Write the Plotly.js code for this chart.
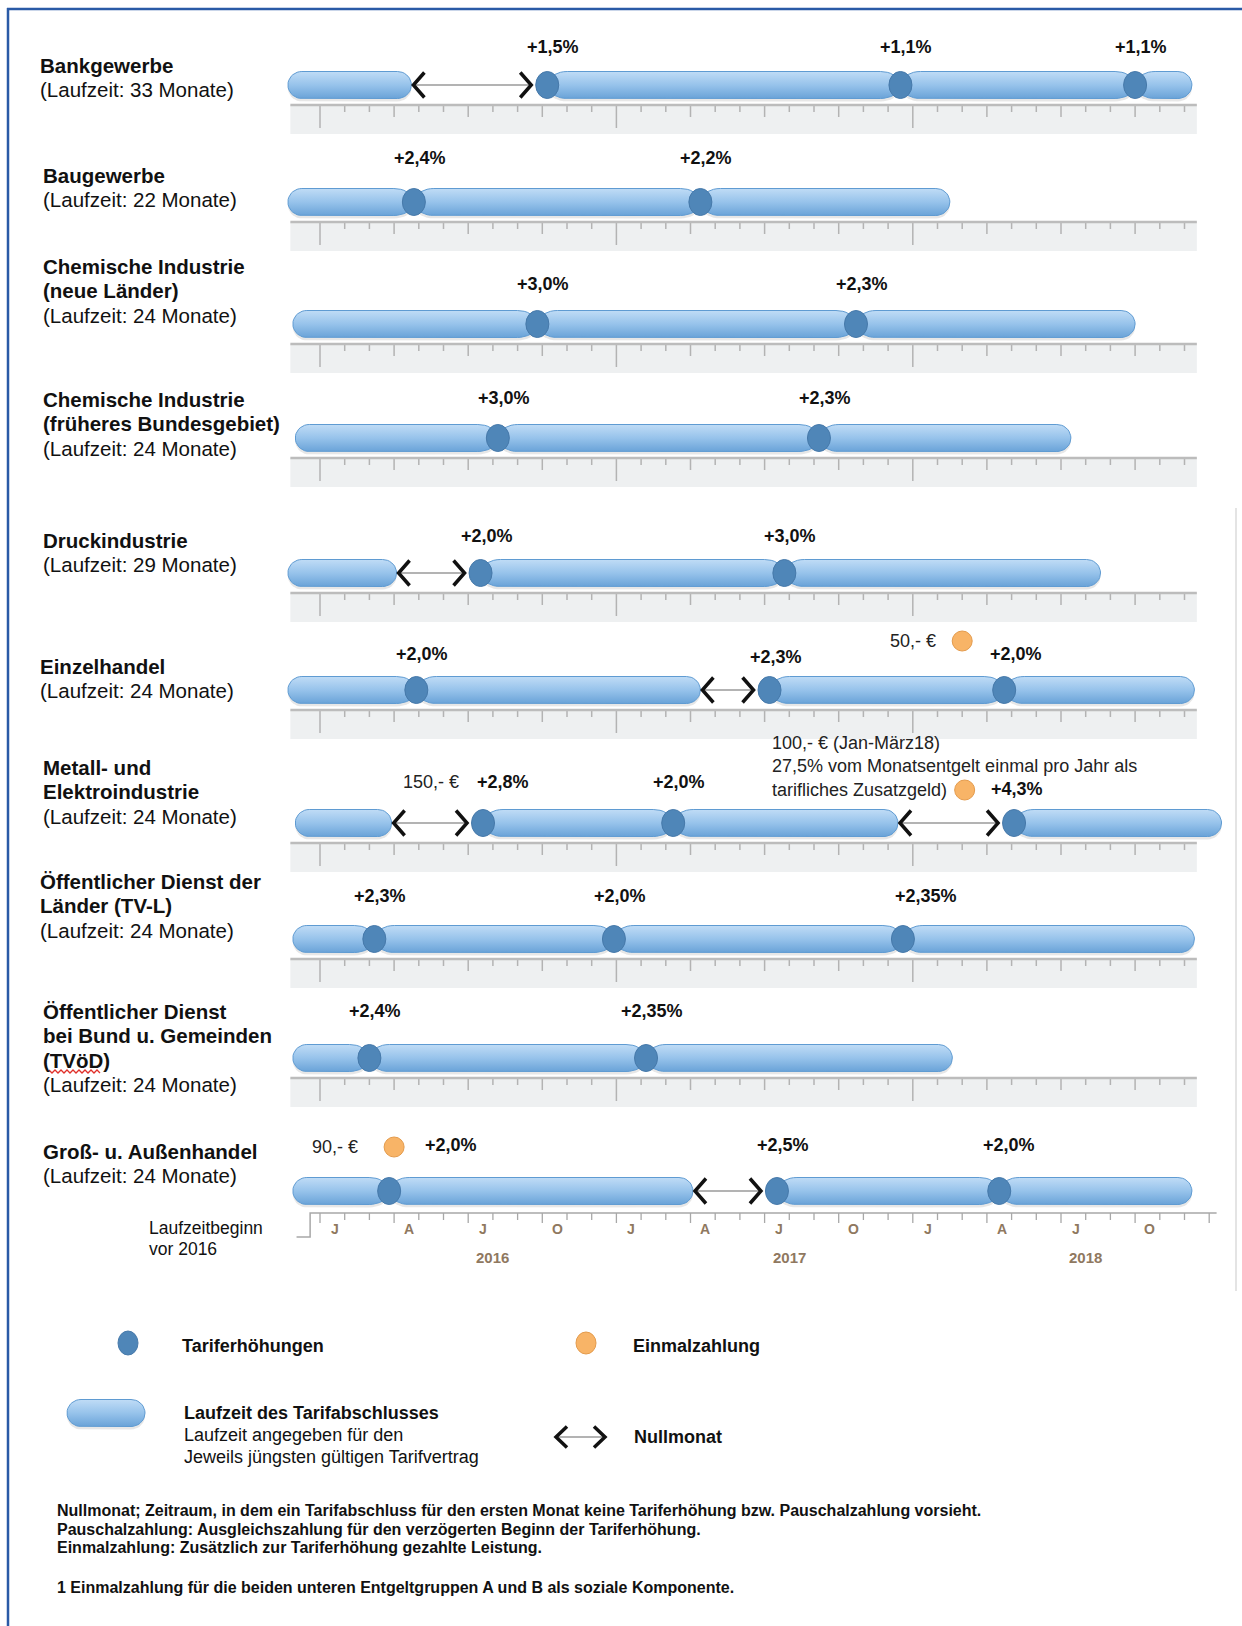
<!DOCTYPE html>
<html><head><meta charset="utf-8">
<script src="https://cdn.plot.ly/plotly-3.0.1.min.js"></script>
<style>html,body{margin:0;padding:0;background:#fff;} #chart{width:1242px;height:1626px;}</style>
</head><body><div id="chart"></div>
<script>
// ================= DATA (months since Jan 2016 = 0) =================
const branchTitles = [
  'Bankgewerbe',
  'Baugewerbe',
  'Chemische Industrie|(neue Länder)',
  'Chemische Industrie|(früheres Bundesgebiet)',
  'Druckindustrie',
  'Einzelhandel',
  'Metall- und|Elektroindustrie',
  'Öffentlicher Dienst der|Länder (TV-L)',
  'Öffentlicher Dienst|bei Bund u. Gemeinden|(TVöD)',
  'Groß- u. Außenhandel'
];
const laufzeitMonths = [33, 22, 24, 24, 29, 24, 24, 24, 24, 24];
const barStart = [-1.3, -1.3, -1.1, -1.0, -1.3, -1.3, -1.0, -1.1, -1.1, -1.1];
const barEnd   = [35.3, 25.5, 33.0, 30.4, 31.6, 35.4, 36.5, 35.4, 25.6, 35.3];
const raiseMonths = [
  [9.2, 23.5, 33.0],
  [3.8, 15.4],
  [8.8, 21.7],
  [7.2, 20.2],
  [6.5, 18.8],
  [3.9, 18.2, 27.7],
  [6.6, 14.3, 28.1],
  [2.2, 11.9, 23.6],
  [2.0, 13.2],
  [2.8, 18.5, 27.5]
];
const raiseLabels = [
  ['+1,5%', '+1,1%', '+1,1%'],
  ['+2,4%', '+2,2%'],
  ['+3,0%', '+2,3%'],
  ['+3,0%', '+2,3%'],
  ['+2,0%', '+3,0%'],
  ['+2,0%', '+2,3%', '+2,0%'],
  ['+2,8%', '+2,0%', '+4,3%'],
  ['+2,3%', '+2,0%', '+2,35%'],
  ['+2,4%', '+2,35%'],
  ['+2,0%', '+2,5%', '+2,0%']
];
const nullmonatFrom = [[3.7], [], [], [], [3.1], [15.4], [2.9, 23.4], [], [], [15.1]];
const nullmonatTo   = [[9.2], [], [], [], [6.5], [18.2], [6.6, 28.1], [], [], [18.5]];
const paymentRow    = [5, 6, 6, 9];
const paymentMonth  = [26.0, 4.5, 26.1, 3.0];
const paymentText   = ['50,- €', '150,- €',
  '100,- € (Jan-März18)<br>27,5% vom Monatsentgelt einmal pro Jahr als<br>tarifliches Zusatzgeld)',
  '90,- €'];
const paymentMarker = [true, false, true, true];
const quarterLetters = ['J', 'A', 'J', 'O'];
const yearLabels = ['2016', '2017', '2018'];
const timelineSpan = [-1.2, 35.5];   // extent of the month rulers
const footnotes = [
  'Nullmonat; Zeitraum, in dem ein Tarifabschluss für den ersten Monat keine Tariferhöhung bzw. Pauschalzahlung vorsieht.',
  'Pauschalzahlung: Ausgleichszahlung für den verzögerten Beginn der Tariferhöhung.',
  'Einmalzahlung: Zusätzlich zur Tariferhöhung gezahlte Leistung.',
  '1 Einmalzahlung für die beiden unteren Entgeltgruppen A und B als soziale Komponente.'
];

// ================= LAYOUT CONSTANTS =================
const W = 1242, H = 1626;
const PX0 = 320, PXM = 24.7;            // pixel of month 0, pixels per month
const px2m = px => (px - PX0) / PXM;
const dm = px => px / PXM;
const ROW_Y   = [85, 202, 324, 438, 573, 690, 823, 939, 1058, 1191];
const TITLE_Y = [65, 175, 266, 399, 540, 666, 767, 881, 1011, 1151];
const TITLE_X = [38, 41, 41, 41, 41, 38, 41, 38, 41, 41];
const LABEL_Y = [47, 158, 284, 398, 536, 654, 782, 896, 1011, 1145];
const LABEL_NUDGE = {'6-0': {x: 14}, '9-0': {x: 56}, '7-2': {x: 17}, '6-2': {x: -3, y: 7}, '5-2': {x: 6}, '5-1': {y: 3}, '9-2': {x: 4}};
const PAY_LAYOUT = [
  {dy: -49, xanchor: 'right', xshift: -24, yshift: 0},
  {dy: -41, xanchor: 'center', xshift: 0, yshift: 0},
  {dy: -33, xanchor: 'left', xshift: -195, yshift: 24},
  {dy: -44, xanchor: 'right', xshift: -34, yshift: 0}
];
const FONT = 'Liberation Sans, Arial, Helvetica, sans-serif';
const BAR_H = 13.5;
const RX_FREE = dm(14), RX_DOT = dm(20);

const traces = [], shapes = [], annotations = [];

function capsule(a, b, yc, h, rxL, rxR) {
  const xs = [], ys = [], n = 18;
  rxL = Math.min(rxL, (b - a) / 2); rxR = Math.min(rxR, (b - a) / 2);
  for (let i = 0; i <= n; i++) { const t = -Math.PI / 2 + Math.PI * i / n; xs.push(b - rxR + rxR * Math.cos(t)); ys.push(yc + h * Math.sin(t)); }
  for (let i = 0; i <= n; i++) { const t = Math.PI / 2 + Math.PI * i / n; xs.push(a + rxL + rxL * Math.cos(t)); ys.push(yc + h * Math.sin(t)); }
  xs.push(xs[0]); ys.push(ys[0]);
  return {xs, ys};
}
function addCapsule(a, b, yc, rxL, rxR) {
  const s = capsule(a, b, yc + 3, BAR_H, rxL, rxR);
  traces.push({type: 'scatter', mode: 'lines', x: s.xs, y: s.ys, fill: 'toself',
    fillcolor: 'rgba(70,70,70,0.13)', line: {width: 0, color: 'rgba(0,0,0,0)'}, hoverinfo: 'skip'});
  const c = capsule(a, b, yc, BAR_H, rxL, rxR);
  traces.push({type: 'scatter', mode: 'lines', x: c.xs, y: c.ys, fill: 'toself', fillcolor: '#93c0ea',
    fillgradient: {type: 'vertical', start: yc - BAR_H, stop: yc + BAR_H,
      colorscale: [[0, '#c0dcf6'], [0.5, '#97c3eb'], [1, '#6aa3d8']]},
    line: {color: '#5f9bd2', width: 1}, hoverinfo: 'skip'});
}
function addChevrons(g0, g1, yc, armH) {
  const lt = g0 + dm(2), rt = g1 - dm(16);
  traces.push({type: 'scatter', mode: 'lines', x: [lt + dm(2), rt - dm(2)], y: [yc, yc],
    line: {color: '#9a9a9a', width: 1.5}, hoverinfo: 'skip'});
  traces.push({type: 'scatter', mode: 'lines', x: [lt + dm(11), lt, lt + dm(11)], y: [yc - armH, yc, yc + armH],
    line: {color: '#111', width: 3.5}, hoverinfo: 'skip'});
  traces.push({type: 'scatter', mode: 'lines', x: [rt - dm(11), rt, rt - dm(11)], y: [yc - armH, yc, yc + armH],
    line: {color: '#111', width: 3.5}, hoverinfo: 'skip'});
}
function txt(xpx, y, text, size, opts) {
  annotations.push(Object.assign({xref: 'paper', yref: 'y', x: xpx / W, y: y, text: text, showarrow: false,
    xanchor: 'left', yanchor: 'middle', font: {family: FONT, size: size, color: '#111'}}, opts || {}));
}

// ---- rulers (gray strips with month ticks) ----
const tickX = [], tickY = [], lineX = [], lineY = [];
for (let r = 0; r < 9; r++) {
  const top = ROW_Y[r] + 20;
  shapes.push({type: 'rect', xref: 'x', yref: 'y', x0: timelineSpan[0], x1: timelineSpan[1], y0: top, y1: top + 29,
    fillcolor: '#eef0f1', line: {width: 0}, layer: 'below'});
  lineX.push(timelineSpan[0], timelineSpan[1], null); lineY.push(top, top, null);
  for (let m = 0; m <= 35; m++) {
    const len = m % 12 === 0 ? 23 : (m % 3 === 0 ? 12 : 7);
    tickX.push(m, m, null); tickY.push(top, top + len, null);
  }
}
traces.push({type: 'scatter', mode: 'lines', x: tickX, y: tickY, line: {color: '#b3b3b3', width: 1.5}, hoverinfo: 'skip'});
traces.push({type: 'scatter', mode: 'lines', x: lineX, y: lineY, line: {color: '#bcbcbc', width: 2.5}, hoverinfo: 'skip'});

// ---- bottom time axis ----
const AX_Y = 1213;
const axX = [-0.95, -0.4, -0.4, 36.3], axY = [AX_Y + 24, AX_Y + 24, AX_Y, AX_Y];
traces.push({type: 'scatter', mode: 'lines', x: axX, y: axY, line: {color: '#a8a8a8', width: 1.5}, hoverinfo: 'skip'});
const atX = [], atY = [];
for (let m = 0; m <= 36; m++) { const len = m % 3 === 0 ? 10 : 7; atX.push(m, m, null); atY.push(AX_Y, AX_Y + len, null); }
traces.push({type: 'scatter', mode: 'lines', x: atX, y: atY, line: {color: '#a8a8a8', width: 1.3}, hoverinfo: 'skip'});
for (let k = 0; k < 12; k++) {
  annotations.push({xref: 'x', yref: 'y', x: 3 * k + 0.6, y: AX_Y + 16, text: '<b>' + quarterLetters[k % 4] + '</b>', showarrow: false,
    xanchor: 'center', yanchor: 'middle', font: {family: FONT, size: 14, color: '#8f7860'}});
}
yearLabels.forEach((t, k) => annotations.push({xref: 'x', yref: 'y', x: 12 * k + 7, y: AX_Y + 44, text: '<b>' + t + '</b>', showarrow: false,
  xanchor: 'center', yanchor: 'middle', font: {family: FONT, size: 15, color: '#8f7860'}}));
txt(147, 1228, 'Laufzeitbeginn', 17.5);
txt(147, 1249, 'vor 2016', 17.5);

// ---- bars, nullmonat arrows, raise dots, labels ----
for (let r = 0; r < ROW_Y.length; r++) {
  const yc = ROW_Y[r];
  let cur = barStart[r], curDot = false;
  raiseMonths[r].forEach((d) => {
    const gi = nullmonatTo[r].indexOf(d);
    if (gi >= 0) addCapsule(cur, nullmonatFrom[r][gi], yc, curDot ? RX_DOT : RX_FREE, RX_FREE);
    else addCapsule(cur, d, yc, curDot ? RX_DOT : RX_FREE, RX_DOT);
    cur = d; curDot = true;
  });
  addCapsule(cur, barEnd[r], yc, curDot ? RX_DOT : RX_FREE, RX_FREE);
  nullmonatFrom[r].forEach((g0, i) => addChevrons(g0, nullmonatTo[r][i], yc, 12.5));
  raiseMonths[r].forEach((d, i) => {
    shapes.push({type: 'circle', xref: 'x', yref: 'y', x0: d - dm(11.5), x1: d + dm(11.5), y0: yc - 13.5, y1: yc + 13.5,
      fillcolor: '#4f86b8', line: {color: '#4679aa', width: 1}, layer: 'above'});
    const nd = LABEL_NUDGE[r + '-' + i] || {};
    annotations.push({xref: 'x', yref: 'y', x: d, y: LABEL_Y[r] + (nd.y || 0), xshift: 6 + (nd.x || 0),
      text: '<b>' + raiseLabels[r][i] + '</b>', showarrow: false, xanchor: 'center', yanchor: 'middle',
      font: {family: FONT, size: 18, color: '#111'}});
  });
  // row titles
  const lines = branchTitles[r].split('|');
  lines.forEach((ln, i) => txt(TITLE_X[r], TITLE_Y[r] + i * 24.5, '<b>' + ln + '</b>', 20.5));
  txt(TITLE_X[r], TITLE_Y[r] + lines.length * 24.5, '(Laufzeit: ' + laufzeitMonths[r] + ' Monate)', 20.5);
}

// ---- one-off payments ----
const pX = [], pY = [];
paymentRow.forEach((r, i) => {
  const L = PAY_LAYOUT[i];
  const y = ROW_Y[r] + L.dy;
  if (paymentMarker[i]) { pX.push(paymentMonth[i]); pY.push(y); }
  annotations.push({xref: 'x', yref: 'y', x: paymentMonth[i], y: y, xshift: L.xshift, yshift: L.yshift,
    text: paymentText[i], showarrow: false, xanchor: L.xanchor, yanchor: 'middle', align: 'left',
    font: {family: FONT, size: 18, color: '#222'}});
});
traces.push({type: 'scatter', mode: 'markers', x: pX, y: pY, hoverinfo: 'skip',
  marker: {size: 20, color: '#f8b467', line: {color: '#e49b4c', width: 1}}});

// spell-check squiggle under "(TVöD)"
const sqX = [], sqY = [];
for (let px = 49, k = 0; px <= 101; px += 3, k++) { sqX.push(px2m(px)); sqY.push(1071 + (k % 2 ? 2 : -1)); }
traces.push({type: 'scatter', mode: 'lines', x: sqX, y: sqY, line: {color: '#e0302a', width: 1.3}, hoverinfo: 'skip'});

// ================= LEGEND =================
shapes.push({type: 'circle', xref: 'x', yref: 'y', x0: px2m(118), x1: px2m(138), y0: 1331, y1: 1355,
  fillcolor: '#4f86b8', line: {color: '#4679aa', width: 1}});
txt(180, 1346, '<b>Tariferhöhungen</b>', 18);
shapes.push({type: 'circle', xref: 'x', yref: 'y', x0: px2m(576), x1: px2m(596), y0: 1332, y1: 1354,
  fillcolor: '#f8b467', line: {color: '#e49b4c', width: 1}});
txt(631, 1346, '<b>Einmalzahlung</b>', 18);
addCapsule(px2m(67), px2m(145), 1413, RX_FREE, RX_FREE);
txt(182, 1413, '<b>Laufzeit des Tarifabschlusses</b>', 18);
txt(182, 1435, 'Laufzeit angegeben für den', 18);
txt(182, 1457, 'Jeweils jüngsten gültigen Tarifvertrag', 18);
addChevrons(px2m(554), px2m(621), 1437, 10.5);
txt(632, 1437, '<b>Nullmonat</b>', 18);
const FN_Y = [1510, 1529, 1547, 1587];
footnotes.forEach((t, i) => txt(55, FN_Y[i], '<b>' + t + '</b>', 16));

// frame
shapes.push({type: 'line', xref: 'paper', yref: 'y', x0: 7 / W, x1: 1, y0: 9, y1: 9, line: {color: '#2a5aa6', width: 2.5}});
shapes.push({type: 'line', xref: 'paper', yref: 'y', x0: 8 / W, x1: 8 / W, y0: 8, y1: H, line: {color: '#2a5aa6', width: 2.5}});
shapes.push({type: 'line', xref: 'paper', yref: 'y', x0: 1236 / W, x1: 1236 / W, y0: 508, y1: 1291, line: {color: '#e4e4e4', width: 2}, layer: 'below'});

traces.forEach(t => t.showlegend = false);
const layout = {
  width: W, height: H, margin: {l: 0, r: 0, t: 0, b: 0, pad: 0},
  paper_bgcolor: '#ffffff', plot_bgcolor: '#ffffff', showlegend: false,
  xaxis: {range: [px2m(0), px2m(W)], visible: false, fixedrange: true},
  yaxis: {range: [H, 0], visible: false, fixedrange: true},
  font: {family: FONT, color: '#111'},
  shapes: shapes, annotations: annotations
};
Plotly.newPlot('chart', traces, layout, {staticPlot: true, displayModeBar: false});
</script></body></html>
